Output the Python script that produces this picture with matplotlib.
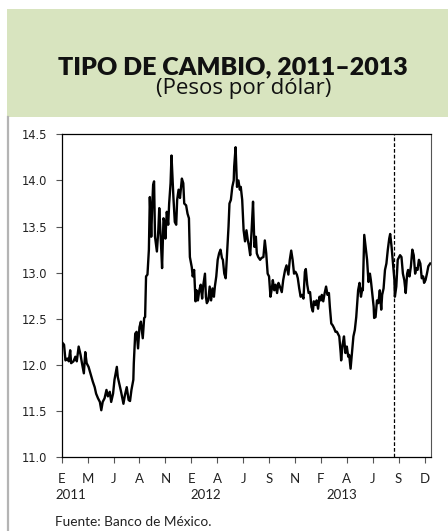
import matplotlib
matplotlib.use("Agg")
import matplotlib.pyplot as plt
from matplotlib.patches import Rectangle
from matplotlib.lines import Line2D
import numpy as np

# ---------------- data ----------------
# business-day number since 3-Jan-2011 and exchange rate (pesos per dollar)
dia = [
    0, 5, 8, 12, 15, 18, 20, 25, 29, 32,
    36, 40, 43, 47, 50, 53, 57, 62, 66, 70,
    73, 77, 81, 84, 87, 91, 95, 98, 102, 105,
    109, 112, 117, 119, 123, 126, 131, 134, 138, 142,
    145, 148, 152, 153, 156, 159, 162, 165, 168, 172,
    175, 177, 179, 182, 185, 187, 190, 192, 194, 196,
    198, 202, 205, 207, 210, 213, 216, 219, 220, 223,
    226, 228, 231, 233, 237, 240, 243, 245, 248, 251,
    255, 258, 260, 264, 267, 270, 272, 276, 278, 281,
    284, 286, 289, 292, 295, 298, 300, 304, 306, 308,
    311, 314, 317, 320, 323, 325, 328, 331, 334, 337,
    340, 342, 345, 348, 351, 354, 356, 359, 362, 365,
    366, 369, 372, 375, 378, 380, 383, 386, 389, 392,
    395, 397, 400, 403, 406, 409, 412, 414, 417, 421,
    424, 428, 431, 434, 437, 440, 443, 446, 448, 451,
    454, 457, 460, 463, 467, 470, 474, 477, 481, 484,
    487, 490, 493, 496, 499, 501, 504, 507, 510, 513,
    516, 518, 521, 524, 527, 530, 533, 535, 538, 541,
    544, 547, 550, 552, 555, 558, 561, 564, 567, 569,
    572, 575, 578, 581, 584, 586, 589, 592, 593, 596,
    599, 602, 605, 608, 610, 613, 616, 619, 622, 625,
    628, 629, 632, 635, 638, 639, 642, 645, 648, 651,
    654, 656, 659, 662, 663, 666, 669, 672, 675, 678,
    680, 683, 686, 689, 692, 695, 697, 700, 703, 706,
    707, 710, 713, 716, 718, 721, 724, 727, 730, 733,
    735, 738, 741, 744, 747, 750, 752, 755, 758, 761,
    764, 767, 769, 772, 775, 778, 782,
]
tipo_cambio = [
    12.25, 12.22, 12.05, 12.07, 12.04, 12.16, 12.02, 12.04, 12.09, 12.04,
    12.20, 12.11, 12.02, 11.91, 12.14, 12.02, 11.98, 11.89, 11.82, 11.76,
    11.69, 11.64, 11.60, 11.51, 11.60, 11.64, 11.73, 11.66, 11.71, 11.60,
    11.69, 11.84, 11.98, 11.87, 11.78, 11.71, 11.58, 11.67, 11.76, 11.62,
    11.61, 11.73, 11.84, 12.02, 12.34, 12.36, 12.18, 12.41, 12.47, 12.29,
    12.51, 12.52, 12.96, 12.98, 13.25, 13.82, 13.39, 13.72, 13.95, 13.99,
    13.39, 13.23, 13.46, 13.70, 13.39, 13.05, 13.59, 13.54, 13.37, 13.66,
    13.52, 13.75, 13.97, 14.27, 13.82, 13.55, 13.52, 13.79, 13.90, 13.81,
    14.02, 13.97, 13.75, 13.73, 13.64, 13.59, 13.17, 13.06, 12.96, 13.03,
    12.69, 12.81, 12.70, 12.81, 12.87, 12.72, 12.85, 12.99, 12.74, 12.67,
    12.70, 12.85, 12.70, 12.83, 12.74, 12.85, 12.96, 13.14, 13.21, 13.25,
    13.16, 13.14, 12.99, 12.94, 13.21, 13.50, 13.75, 13.79, 13.93, 14.00,
    14.15, 14.36, 13.93, 14.00, 13.90, 13.93, 13.79, 13.46, 13.34, 13.46,
    13.35, 13.30, 13.19, 13.46, 13.77, 13.28, 13.39, 13.21, 13.17, 13.14,
    13.16, 13.17, 13.35, 13.21, 12.99, 12.96, 12.74, 12.83, 12.92, 12.81,
    12.87, 12.78, 12.89, 12.85, 12.79, 12.92, 13.03, 13.08, 12.98, 13.14,
    13.24, 13.14, 12.99, 13.01, 12.98, 12.94, 12.83, 12.74, 12.76, 12.72,
    13.01, 13.04, 12.87, 12.78, 12.79, 12.63, 12.58, 12.69, 12.65, 12.70,
    12.61, 12.74, 12.70, 12.76, 12.69, 12.78, 12.85, 12.76, 12.78, 12.63,
    12.45, 12.43, 12.40, 12.36, 12.36, 12.34, 12.31, 12.13, 12.05, 12.22,
    12.31, 12.13, 12.20, 12.09, 12.11, 11.96, 12.13, 12.31, 12.38, 12.52,
    12.74, 12.81, 12.89, 12.74, 12.83, 12.81, 13.41, 13.28, 13.14, 12.90,
    12.99, 12.92, 12.78, 12.63, 12.51, 12.52, 12.70, 12.67, 12.81, 12.60,
    12.76, 12.83, 13.03, 13.10, 13.25, 13.37, 13.42, 13.28, 13.10, 12.92,
    12.74, 12.85, 13.14, 13.17, 13.19, 13.17, 12.99, 12.92, 12.78, 12.99,
    13.03, 12.96, 13.07, 13.25, 13.19, 12.99, 13.05, 13.03, 13.14, 13.10,
    12.94, 12.96, 12.89, 12.92, 12.99, 13.07, 13.10,
]
assert len(dia) == len(tipo_cambio)

meses = ['E', 'M', 'J', 'A', 'N', 'E', 'A', 'J', 'S', 'N', 'F', 'A', 'J', 'S', 'D']
pos_meses = [0, 55, 110, 165, 220, 275, 330, 385, 440, 495, 550, 605, 660, 715, 770]
anios = ['2011', '2012', '2013']
pos_anios = [20, 306, 595]
dia_referencia = 706
y_ticks = [11.0, 11.5, 12.0, 12.5, 13.0, 13.5, 14.0, 14.5]

titulo = 'TIPO DE CAMBIO, 2011–2013'
subtitulo = '(Pesos por dólar)'
fuente = 'Fuente: Banco de México.'

# ---------------- figure ----------------
W, H = 448, 531
fig = plt.figure(figsize=(W / 100, H / 100), dpi=100)
fig.patch.set_facecolor('white')

def fx(px):
    return px / W

def fy(py):
    return 1 - py / H

# header band
fig.patches.append(Rectangle((fx(7), fy(117)), 1 - fx(7), (117 - 9) / H,
                             transform=fig.transFigure, facecolor='#d8e4bf',
                             edgecolor='none', zorder=0))
# left grey border
fig.lines.append(Line2D([fx(8), fx(8)], [0, fy(117)], transform=fig.transFigure,
                        color='#b4b4b4', lw=1.6))

fig.text(fx(233), fy(74), titulo, ha='center', va='baseline',
         fontsize=18, fontweight='heavy', family=['Lato', 'DejaVu Sans'], color='#111111')
fig.text(fx(244), fy(94), subtitulo, ha='center', va='baseline',
         fontsize=16, family=['Open Sans', 'DejaVu Sans'], color='#111111')

ax = fig.add_axes([fx(61.7), fy(457.3), (430.7 - 61.7) / W, (457.3 - 134.3) / H])
ax.plot(dia, tipo_cambio, color='black', lw=1.7, solid_joinstyle='round')
ax.axvline(dia_referencia, color='black', lw=0.9, ls=(0, (3, 1.6)))

ax.set_xlim(0, 783)
ax.set_ylim(11.0, 14.5)
ax.set_yticks(y_ticks)
ax.set_yticklabels([f'{v:.1f}' for v in y_ticks], family='DejaVu Sans', fontsize=8.3, color='#222222')
ax.set_xticks(pos_meses)
ax.set_xticklabels(meses, family=['Lato', 'DejaVu Sans'], fontsize=9.5, color='#222222')
ax.tick_params(axis='y', direction='out', length=4, width=0.8, color='#555555', pad=6.5)
ax.tick_params(axis='x', direction='out', length=4, width=0.8, color='#555555', pad=7)

for s in ['left', 'bottom', 'top']:
    ax.spines[s].set_color('black')
    ax.spines[s].set_linewidth(0.9)
ax.spines['right'].set_color('#555555')
ax.spines['right'].set_linewidth(0.8)

y_anio = -(499 - 457.3) / (457.3 - 134.3)
for a, p in zip(anios, pos_anios):
    ax.text(p, y_anio, a, transform=ax.get_xaxis_transform(), ha='center', va='baseline',
            fontsize=9.5, family=['Lato', 'DejaVu Sans'], color='#222222')

fig.text(fx(55), fy(526), fuente, ha='left', va='baseline',
         fontsize=9.8, family=['Lato', 'DejaVu Sans'], color='#222222')

fig.savefig('out.png', dpi=100)
